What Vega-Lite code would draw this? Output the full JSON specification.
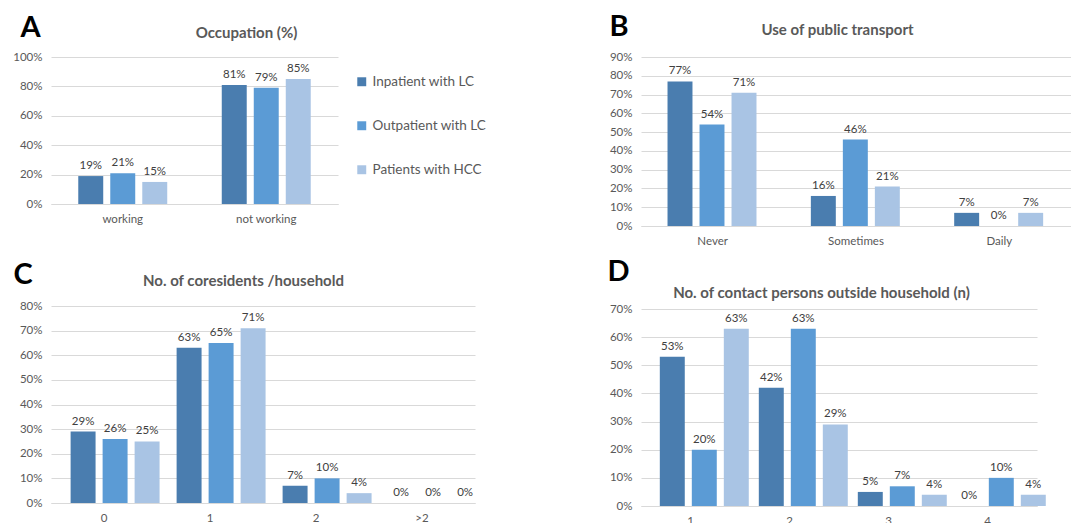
{
  "$schema": "https://vega.github.io/schema/vega-lite/v6.json",
  "background": "white",
  "padding": {"left": 12, "top": 12, "right": 0, "bottom": 0},
  "config": {
    "font": "Lato",
    "view": {"stroke": null},
    "axis": {"labelFont": "Lato", "labelFontSize": 11.5, "labelColor": "#595959", "titleFont": "Lato"},
    "axisLeft": {"grid": true, "gridColor": "#d9d9d9", "gridWidth": 1, "domain": false, "ticks": false, "labelPadding": 9, "titleFontSize": 29, "titleFontWeight": "bold", "titleColor": "#000000", "titleAngle": 0, "titleAlign": "left", "titleBaseline": "alphabetic"},
    "axisBottom": {"domain": true, "domainColor": "#d9d9d9", "domainWidth": 1, "ticks": false, "grid": false, "labelPadding": 9, "labelAngle": 0},
    "axisTop": {"labels": false, "domain": false, "ticks": false, "grid": false, "titleFontSize": 15, "titleFontWeight": "bold", "titleColor": "#595959", "titleAlign": "center", "titleBaseline": "alphabetic"},
    "legend": {"labelFont": "Lato"}
  },
  "datasets": {
    "occ": [
      {"cat": "working", "group": "Inpatient with LC", "value": 0.19},
      {"cat": "working", "group": "Outpatient with LC", "value": 0.21},
      {"cat": "working", "group": "Patients with HCC", "value": 0.15},
      {"cat": "not working", "group": "Inpatient with LC", "value": 0.81},
      {"cat": "not working", "group": "Outpatient with LC", "value": 0.79},
      {"cat": "not working", "group": "Patients with HCC", "value": 0.85}
    ],
    "transport": [
      {"cat": "Never", "group": "Inpatient with LC", "value": 0.77},
      {"cat": "Never", "group": "Outpatient with LC", "value": 0.54},
      {"cat": "Never", "group": "Patients with HCC", "value": 0.71},
      {"cat": "Sometimes", "group": "Inpatient with LC", "value": 0.16},
      {"cat": "Sometimes", "group": "Outpatient with LC", "value": 0.46},
      {"cat": "Sometimes", "group": "Patients with HCC", "value": 0.21},
      {"cat": "Daily", "group": "Inpatient with LC", "value": 0.07},
      {"cat": "Daily", "group": "Outpatient with LC", "value": 0.0},
      {"cat": "Daily", "group": "Patients with HCC", "value": 0.07}
    ],
    "coresidents": [
      {"cat": "0", "group": "Inpatient with LC", "value": 0.29},
      {"cat": "0", "group": "Outpatient with LC", "value": 0.26},
      {"cat": "0", "group": "Patients with HCC", "value": 0.25},
      {"cat": "1", "group": "Inpatient with LC", "value": 0.63},
      {"cat": "1", "group": "Outpatient with LC", "value": 0.65},
      {"cat": "1", "group": "Patients with HCC", "value": 0.71},
      {"cat": "2", "group": "Inpatient with LC", "value": 0.07},
      {"cat": "2", "group": "Outpatient with LC", "value": 0.10},
      {"cat": "2", "group": "Patients with HCC", "value": 0.04},
      {"cat": ">2", "group": "Inpatient with LC", "value": 0.0},
      {"cat": ">2", "group": "Outpatient with LC", "value": 0.0},
      {"cat": ">2", "group": "Patients with HCC", "value": 0.0}
    ],
    "contacts": [
      {"cat": "1", "group": "Inpatient with LC", "value": 0.53},
      {"cat": "1", "group": "Outpatient with LC", "value": 0.20},
      {"cat": "1", "group": "Patients with HCC", "value": 0.63},
      {"cat": "2", "group": "Inpatient with LC", "value": 0.42},
      {"cat": "2", "group": "Outpatient with LC", "value": 0.63},
      {"cat": "2", "group": "Patients with HCC", "value": 0.29},
      {"cat": "3", "group": "Inpatient with LC", "value": 0.05},
      {"cat": "3", "group": "Outpatient with LC", "value": 0.07},
      {"cat": "3", "group": "Patients with HCC", "value": 0.04},
      {"cat": "4", "group": "Inpatient with LC", "value": 0.0},
      {"cat": "4", "group": "Outpatient with LC", "value": 0.10},
      {"cat": "4", "group": "Patients with HCC", "value": 0.04}
    ]
  },
  "resolve": {"legend": {"color": "independent"}},
  "spacing": 120,
  "hconcat": [
    {
      "resolve": {"legend": {"color": "independent"}},
      "spacing": 35,
      "vconcat": [
        {
          "width": 287, "height": 147,
          "data": {"name": "occ"},
          "encoding": {
            "xOffset": {"field": "group", "type": "nominal", "sort": ["Inpatient with LC", "Outpatient with LC", "Patients with HCC"], "scale": {"paddingInner": 0.22, "paddingOuter": 0}},
            "y": {"field": "value", "type": "quantitative", "scale": {"domain": [0, 1], "nice": false}, "axis": {"title": "A", "titleX": -31, "titleY": -21, "values": [0, 0.2, 0.4, 0.6, 0.8, 1], "format": ".0%"}}
          },
          "layer": [
            {
              "mark": {"type": "bar"},
              "encoding": {
                "x": {"field": "cat", "type": "nominal", "sort": null, "scale": {"paddingInner": 0.38, "paddingOuter": 0.19}, "axis": {"orient": "bottom", "title": null}},
                "color": {"field": "group", "type": "nominal", "sort": ["Inpatient with LC", "Outpatient with LC", "Patients with HCC"], "scale": {"domain": ["Inpatient with LC", "Outpatient with LC", "Patients with HCC"], "range": ["#4a7daf", "#5b9bd5", "#a9c4e4"]}, "legend": {"title": null, "orient": "none", "legendX": 304, "legendY": 18, "direction": "vertical", "symbolType": "square", "symbolSize": 80, "symbolStrokeWidth": 0, "labelFontSize": 13.5, "labelColor": "#595959", "rowPadding": 29, "labelOffset": 4}}
              }
            },
            {
              "mark": {"type": "text", "baseline": "bottom", "dy": -5, "fontSize": 11.5, "color": "#404040"},
              "encoding": {
                "x": {"field": "cat", "type": "nominal", "sort": null, "scale": {"paddingInner": 0.38, "paddingOuter": 0.19}, "axis": {"orient": "top", "title": "Occupation (%)", "titleX": 195, "titleY": -20}},
                "text": {"field": "value", "type": "quantitative", "format": ".0%"}
              }
            }
          ],
          "resolve": {"axis": {"x": "independent"}}
        },
        {
          "width": 424, "height": 197,
          "data": {"name": "coresidents"},
          "encoding": {
            "xOffset": {"field": "group", "type": "nominal", "sort": ["Inpatient with LC", "Outpatient with LC", "Patients with HCC"], "scale": {"paddingInner": 0.22, "paddingOuter": 0}},
            "y": {"field": "value", "type": "quantitative", "scale": {"domain": [0, 0.8], "nice": false}, "axis": {"title": "C", "titleX": -38, "titleY": -23, "values": [0, 0.1, 0.2, 0.3, 0.4, 0.5, 0.6, 0.7, 0.8], "format": ".0%"}}
          },
          "layer": [
            {
              "mark": {"type": "bar"},
              "encoding": {
                "x": {"field": "cat", "type": "nominal", "sort": null, "scale": {"paddingInner": 0.37, "paddingOuter": 0.185}, "axis": {"orient": "bottom", "title": null}},
                "color": {"field": "group", "type": "nominal", "sort": ["Inpatient with LC", "Outpatient with LC", "Patients with HCC"], "scale": {"domain": ["Inpatient with LC", "Outpatient with LC", "Patients with HCC"], "range": ["#4a7daf", "#5b9bd5", "#a9c4e4"]}, "legend": null}
              }
            },
            {
              "mark": {"type": "text", "baseline": "bottom", "dy": -5, "fontSize": 11.5, "color": "#404040"},
              "encoding": {
                "x": {"field": "cat", "type": "nominal", "sort": null, "scale": {"paddingInner": 0.37, "paddingOuter": 0.185}, "axis": {"orient": "top", "title": "No. of coresidents /household", "titleX": 192, "titleY": -21}},
                "text": {"field": "value", "type": "quantitative", "format": ".0%"}
              }
            }
          ],
          "resolve": {"axis": {"x": "independent"}}
        }
      ]
    },
    {
      "resolve": {"legend": {"color": "independent"}},
      "spacing": 10,
      "vconcat": [
        {
          "width": 430, "height": 169,
          "data": {"name": "transport"},
          "encoding": {
            "xOffset": {"field": "group", "type": "nominal", "sort": ["Inpatient with LC", "Outpatient with LC", "Patients with HCC"], "scale": {"paddingInner": 0.22, "paddingOuter": 0}},
            "y": {"field": "value", "type": "quantitative", "scale": {"domain": [0, 0.9], "nice": false}, "axis": {"title": "B", "titleX": -32, "titleY": -22, "values": [0, 0.1, 0.2, 0.3, 0.4, 0.5, 0.6, 0.7, 0.8, 0.9], "format": ".0%"}}
          },
          "layer": [
            {
              "mark": {"type": "bar"},
              "encoding": {
                "x": {"field": "cat", "type": "nominal", "sort": null, "scale": {"paddingInner": 0.37, "paddingOuter": 0.185}, "axis": {"orient": "bottom", "title": null}},
                "color": {"field": "group", "type": "nominal", "sort": ["Inpatient with LC", "Outpatient with LC", "Patients with HCC"], "scale": {"domain": ["Inpatient with LC", "Outpatient with LC", "Patients with HCC"], "range": ["#4a7daf", "#5b9bd5", "#a9c4e4"]}, "legend": null}
              }
            },
            {
              "mark": {"type": "text", "baseline": "bottom", "dy": -5, "fontSize": 11.5, "color": "#404040"},
              "encoding": {
                "x": {"field": "cat", "type": "nominal", "sort": null, "scale": {"paddingInner": 0.37, "paddingOuter": 0.185}, "axis": {"orient": "top", "title": "Use of public transport", "titleX": 196, "titleY": -23}},
                "text": {"field": "value", "type": "quantitative", "format": ".0%"}
              }
            }
          ],
          "resolve": {"axis": {"x": "independent"}}
        },
        {
          "width": 396, "height": 197,
          "data": {"name": "contacts"},
          "encoding": {
            "xOffset": {"field": "group", "type": "nominal", "sort": ["Inpatient with LC", "Outpatient with LC", "Patients with HCC"], "scale": {"paddingInner": 0.22, "paddingOuter": 0}},
            "y": {"field": "value", "type": "quantitative", "scale": {"domain": [0, 0.7], "nice": false}, "axis": {"title": "D", "titleX": -34, "titleY": -29, "values": [0, 0.1, 0.2, 0.3, 0.4, 0.5, 0.6, 0.7], "format": ".0%"}}
          },
          "layer": [
            {
              "mark": {"type": "bar"},
              "encoding": {
                "x": {"field": "cat", "type": "nominal", "sort": null, "scale": {"paddingInner": 0.38, "paddingOuter": 0.19}, "axis": {"orient": "bottom", "title": null}},
                "color": {"field": "group", "type": "nominal", "sort": ["Inpatient with LC", "Outpatient with LC", "Patients with HCC"], "scale": {"domain": ["Inpatient with LC", "Outpatient with LC", "Patients with HCC"], "range": ["#4a7daf", "#5b9bd5", "#a9c4e4"]}, "legend": null}
              }
            },
            {
              "mark": {"type": "text", "baseline": "bottom", "dy": -5, "fontSize": 11.5, "color": "#404040"},
              "encoding": {
                "x": {"field": "cat", "type": "nominal", "sort": null, "scale": {"paddingInner": 0.38, "paddingOuter": 0.19}, "axis": {"orient": "top", "title": "No. of contact persons outside household (n)", "titleX": 180, "titleY": -12}},
                "text": {"field": "value", "type": "quantitative", "format": ".0%"}
              }
            }
          ],
          "resolve": {"axis": {"x": "independent"}}
        }
      ]
    }
  ]
}
